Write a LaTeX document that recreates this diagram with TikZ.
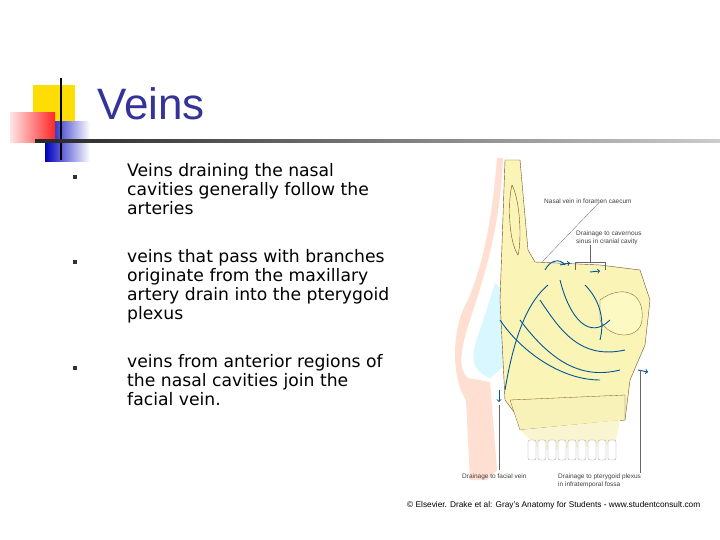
\documentclass[tikz,border=0pt]{standalone}
\usepackage{fontspec}
\setmainfont{Liberation Sans}
\newfontfamily\bodyfont{DejaVu Sans}
\begin{document}
\begin{tikzpicture}[x=1pt,y=-1pt,
  bul/.style={fill=black!80,minimum size=4.5pt,inner sep=0pt},
  btxt/.style={anchor=north west,align=left,font=\bodyfont\fontsize{17.2}{19}\selectfont,inner sep=0pt},
  lab/.style={font=\fontsize{6.5}{7.5}\selectfont,text=black!75,inner sep=0pt,align=left},
  vein/.style={draw=blue!45!cyan!60!black,line width=0.9pt},
  bone/.style={fill=brown!25!yellow!30,draw=brown!60!black,line width=0.4pt}]
\useasboundingbox (0,0) rectangle (720,540);
% decoration
\fill[yellow!80!orange] (33,85) rectangle (75,122);
\shade[left color=blue!75!black,right color=white] (45,122) rectangle (90,162);
\shade[left color=red!10,right color=red!85] (10,113) rectangle (55,143);
\draw[black,line width=1.8pt] (61,78) -- (61,160);
\shade[left color=black!85,right color=black!20] (35,140) rectangle (720,142.5);
\node[anchor=west,text={rgb,255:red,51;green,51;blue,153},font=\fontsize{44}{44}\selectfont,inner sep=0pt] (title) at (97,104) {Veins};
% bullets
\node[bul] (b1) at (75,177) {};
\node[bul] (b2) at (75,262) {};
\node[bul] (b3) at (75,368) {};
\node[btxt] (t1) at (127,163) {Veins draining the nasal\\cavities generally follow the\\arteries};
\node[btxt] (t2) at (127,249) {veins that pass with branches\\originate from the maxillary\\artery drain into the pterygoid\\plexus};
\node[btxt] (t3) at (127,354) {veins from anterior regions of\\the nasal cavities join the\\facial vein.};
% anatomical picture (schematic)
\fill[orange!25!pink!40] (503,158) .. controls (500,220) and (490,260) .. (470,320) .. controls (460,350) and (458,370) .. (468,378) -- (490,382) -- (497,470) -- (487,480) -- (470,480) -- (466,400) .. controls (452,380) and (450,330) .. (468,300) .. controls (485,260) and (493,210) .. (497,158) -- cycle;
\fill[blue!20!cyan!15] (495,283) -- (480,330) .. controls (470,355) and (470,370) .. (490,378) -- (505,365) -- (502,290) -- cycle;
\fill[bone] (505,160) -- (520,160) -- (528,250) -- (535,262) -- (600,265) -- (640,270) -- (650,300) -- (645,345) -- (630,380) -- (625,420) -- (520,420) -- (505,400) -- (500,300) -- cycle;
\fill[bone] (512,185) .. controls (520,200) and (522,240) .. (518,255) .. controls (508,240) and (508,200) .. (512,185);
\fill[brown!20!yellow!25,draw=brown!60!black,line width=0.3pt] (600,300) .. controls (620,285) and (645,290) .. (642,320) .. controls (640,340) and (610,340) .. (600,320) -- cycle;
\fill[brown!35!yellow!30,draw=brown!60!black,line width=0.3pt] (510,400) -- (625,395) -- (625,420) -- (520,430) -- cycle;
\fill[brown!40!yellow!20] (520,430) -- (620,420) -- (615,445) -- (540,450) -- cycle;
\foreach \i in {0,...,8} \fill[white,draw=black!40,line width=0.3pt,rounded corners=2pt] (528+\i*10,440) rectangle (536+\i*10,460);
% veins
\draw[vein] (548,285) .. controls (530,300) and (515,330) .. (505,390);
\draw[vein] (560,280) .. controls (570,320) and (590,340) .. (610,320);
\draw[vein] (540,300) .. controls (560,330) and (580,360) .. (625,350);
\draw[vein] (520,320) .. controls (550,360) and (580,380) .. (620,370);
\draw[vein] (500,320) .. controls (520,350) and (560,380) .. (600,380);
\draw[vein] (585,285) .. controls (600,300) and (605,320) .. (600,340);
\draw[vein] (545,270) .. controls (550,260) and (560,258) .. (565,265);
\draw[vein,->] (560,265) -- (570,263);
\draw[vein,->] (590,272) -- (600,271);
\draw[vein,->] (638,370) -- (648,372);
\draw[vein,->] (499,390) -- (499,402);
% labels
\node[lab,anchor=west] (l1) at (544,201) {Nasal vein in foramen caecum};
\node[lab,anchor=west] (l2) at (576,238) {Drainage to cavernous\\sinus in cranial cavity};
\node[lab,anchor=west] (l3) at (462,477) {Drainage to facial vein};
\node[lab,anchor=west] (l4) at (558,481) {Drainage to pterygoid plexus\\in infratemporal fossa};
\coordinate (c1) at (542,262);
\coordinate (c4) at (640,370);
\coordinate (c3) at (499,405);
\draw[black!60,line width=0.3pt] (l1.south west) ++(55,-1) -- (c1);
\draw[black!60,line width=0.3pt] (575,270) -- (575,262) -- (605,262) -- (605,270);
\draw[black!60,line width=0.3pt] (590,262) -- (l2.south west -| 590,250);
\draw[black!60,line width=0.3pt] (c3) -- (499,470);
\draw[black!60,line width=0.3pt] (c4) -- (640,473);
\node[anchor=west,font=\fontsize{8.3}{9}\selectfont,inner sep=0pt] (cr) at (407,505) {\textcopyright{} Elsevier. Drake et al: Gray's Anatomy for Students - www.studentconsult.com};
\end{tikzpicture}
\end{document}
